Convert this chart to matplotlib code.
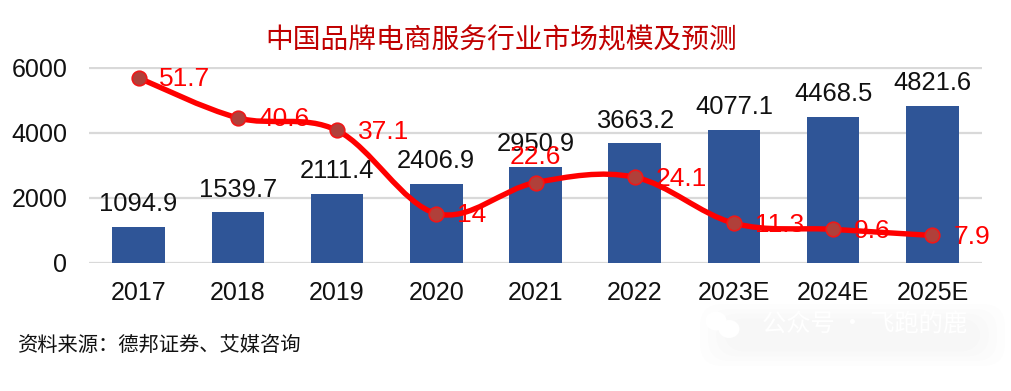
import matplotlib
matplotlib.use("Agg")
import matplotlib.pyplot as plt
import numpy as np
from matplotlib.path import Path
from matplotlib.patches import PathPatch, FancyBboxPatch, Ellipse

categories = ["2017", "2018", "2019", "2020", "2021", "2022", "2023E", "2024E", "2025E"]
market_size = [1094.9, 1539.7, 2111.4, 2406.9, 2950.9, 3663.2, 4077.1, 4468.5, 4821.6]
growth = [51.7, 40.6, 37.1, 14, 22.6, 24.1, 11.3, 9.6, 7.9]
growth_labels = ["51.7", "40.6", "37.1", "14", "22.6", "24.1", "11.3", "9.6", "7.9"]
yticks = [0, 2000, 4000, 6000]
title = "中国品牌电商服务行业市场规模及预测"
source = "资料来源：德邦证券、艾媒咨询"
watermark = "公众号 · 飞跑的鹿"

plt.rcParams["font.family"] = ["Liberation Sans", "Noto Sans CJK SC", "DejaVu Sans"]
W, H = 1012, 391
fig = plt.figure(figsize=(W / 100, H / 100), dpi=100)

# faint watermark backdrop, in pixel coordinates of the figure
bg = fig.add_axes([0, 0, 1, 1], zorder=-1)
bg.set_xlim(0, W)
bg.set_ylim(H, 0)
bg.axis("off")
for inset in (0, 8, 16, 24):
    bg.add_patch(FancyBboxPatch((700 + inset, 304 + inset * 0.6), 305 - 2 * inset, 62 - 2 * inset * 0.6,
                                boxstyle="round,pad=0,rounding_size=22", fc="#000000", ec="none", alpha=0.009))
bg.add_patch(Ellipse((716, 321), 21, 19, fc="#FFFFFF", ec="none"))
bg.add_patch(Ellipse((729, 329), 21, 18, fc="#FFFFFF", ec="none"))
bg.text(865, 325, watermark, ha="center", va="center", fontsize=17.5, color="#FFFFFF",
        family=["Noto Sans CJK SC", "DejaVu Sans"])

L, R, T, B = 89, 982, 67.5, 262.5
ax = fig.add_axes([L / W, 1 - B / H, (R - L) / W, (B - T) / H])
ax.patch.set_alpha(0)
x = np.arange(len(categories))

ax.bar(x, market_size, width=0.53, color="#2F5597", zorder=2)
ax.set_xlim(-0.5, len(categories) - 0.5)
ax.set_ylim(0, 6000)
ax.set_yticks(yticks)
ax.set_xticks(x, categories)
ax.grid(axis="y", color="#D9D9D9", lw=1.6, zorder=0)
ax.set_axisbelow(True)
for s in ax.spines.values():
    s.set_visible(False)
ax.tick_params(axis="both", length=0, labelsize=18, colors="#111111")
ax.tick_params(axis="y", pad=15.5)
ax.tick_params(axis="x", pad=13)

for xi, v in zip(x, market_size):
    ax.annotate(f"{v:.1f}", (xi, v), xytext=(0, 16.4), textcoords="offset points",
                ha="center", va="center", fontsize=18.4, color="#111111", zorder=3)

ax2 = ax.twinx()
ax2.set_ylim(0.39, 54.6)
ax2.axis("off")

# Smooth curve through the growth values (Bezier handles derived from neighbours)
pts = np.column_stack([x, growth]).astype(float)
verts = [tuple(pts[0])]
codes = [Path.MOVETO]
k = 0.17
for i in range(len(pts) - 1):
    p0 = pts[max(i - 1, 0)]
    p1 = pts[i]
    p2 = pts[i + 1]
    p3 = pts[min(i + 2, len(pts) - 1)]
    verts += [tuple(p1 + k * (p2 - p0)), tuple(p2 - k * (p3 - p1)), tuple(p2)]
    codes += [Path.CURVE4] * 3
ax2.add_patch(PathPatch(Path(verts, codes), fc="none", ec="#FF0000", lw=3.9,
                        capstyle="round", zorder=4, transform=ax2.transData))
ax2.plot(x, growth, ls="none", marker="o", ms=10.5, mfc="#B0403A", mec="#F01818", mew=1.2, zorder=5)

for xi, g, lab in zip(x, growth, growth_labels):
    if lab == "22.6":
        off, ha = (0, 18.5), "center"
    else:
        off, ha = (15, -1), "left"
    ax.annotate(lab, (xi, g), xycoords=ax2.transData, xytext=off, textcoords="offset points",
                ha=ha, va="center", fontsize=19, color="#FF0000", zorder=3.5)

fig.text(501 / W, 1 - 40.5 / H, title, ha="center", va="center", fontsize=20,
         color="#C00000", family=["Noto Sans CJK SC", "DejaVu Sans"])
fig.text(18 / W, 1 - 345 / H, source, ha="left", va="center", fontsize=14.6,
         color="#111111", family=["Noto Sans CJK SC", "DejaVu Sans"])

fig.savefig("out.png", dpi=100)
